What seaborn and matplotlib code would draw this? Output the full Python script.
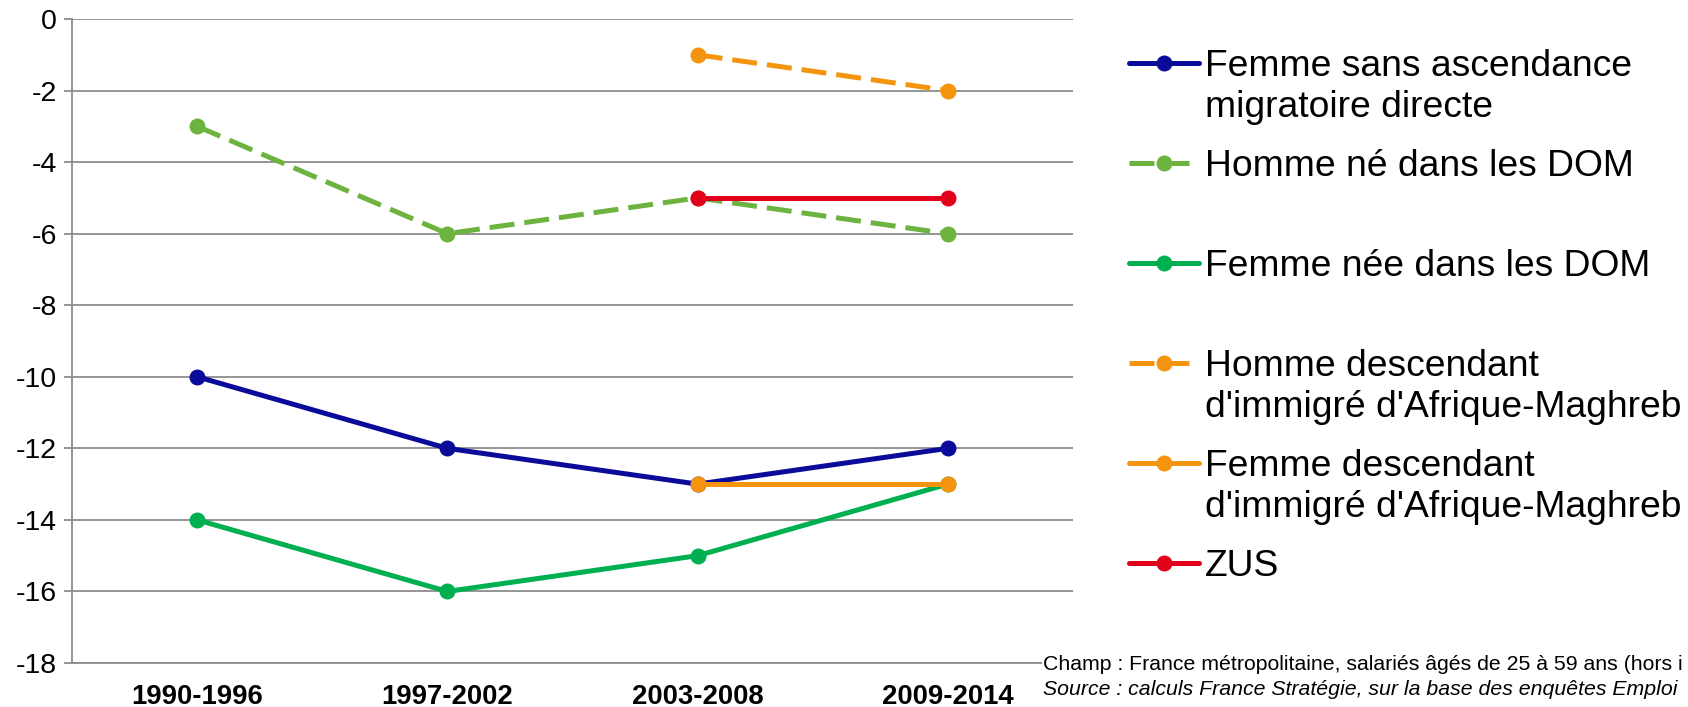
import numpy as np
import pandas as pd
import matplotlib
matplotlib.use("Agg")
import matplotlib.pyplot as plt
from matplotlib.transforms import IdentityTransform
import seaborn as sns

periodes = ["1990-1996", "1997-2002", "2003-2008", "2009-2014"]
series = [
    "Femme sans ascendance\nmigratoire directe",
    "Homme né dans les DOM",
    "Femme née dans les DOM",
    "Homme descendant\nd'immigré d'Afrique-Maghreb",
    "Femme descendant\nd'immigré d'Afrique-Maghreb",
    "ZUS",
]
femme_sans_ascendance = [-10, -12, -13, -12]
homme_ne_dom = [-3, -6, -5, -6]
femme_nee_dom = [-14, -16, -15, -13]
homme_desc_maghreb = [np.nan, np.nan, -1, -2]
femme_desc_maghreb = [np.nan, np.nan, -13, -13]
zus = [np.nan, np.nan, -5, -5]
y_ticks = [0, -2, -4, -6, -8, -10, -12, -14, -16, -18]
note_champ = "Champ : France métropolitaine, salariés âgés de 25 à 59 ans (hors i"
note_source = "Source : calculs France Stratégie, sur la base des enquêtes Emploi"

couleurs = ["#0B0B99", "#6DB33F", "#00B050", "#F5950F", "#F5950F", "#E2001A"]
tirets = ["", (5, 2), "", (5, 2), "", ""]

valeurs = [femme_sans_ascendance, homme_ne_dom, femme_nee_dom,
           homme_desc_maghreb, femme_desc_maghreb, zus]
rows = []
for nom, vals in zip(series, valeurs):
    for p, v in zip(periodes, vals):
        rows.append({"periode": p, "valeur": v, "serie": nom})
df = pd.DataFrame(rows).dropna()

sns.set_theme(style="white")
plt.rcParams["font.family"] = ["Liberation Sans", "DejaVu Sans"]
plt.rcParams["axes.unicode_minus"] = False
plt.rcParams["text.color"] = "black"
plt.rcParams["xtick.labelcolor"] = "black"
plt.rcParams["ytick.labelcolor"] = "black"

W, H = 1688, 707
fig = plt.figure(figsize=(W / 100, H / 100), dpi=100)
ax = fig.add_axes([72 / W, 1 - 663 / H, (1073 - 72) / W, (663 - 19) / H])

sns.lineplot(data=df, x="periode", y="valeur", hue="serie", style="serie",
             hue_order=series, style_order=series,
             palette=dict(zip(series, couleurs)),
             dashes=dict(zip(series, tirets)),
             markers=dict(zip(series, ["o"] * 6)),
             linewidth=3.6, markersize=11.5, markeredgewidth=0,
             errorbar=None, legend=False, ax=ax)

gris = "#8C8C8C"
ax.set_xlim(-0.5, 3.5)
ax.set_ylim(-18, 0)
ax.set_xticks(range(len(periodes)), periodes, fontweight="bold", fontsize=19.8)
ax.set_yticks(y_ticks, [str(t) for t in y_ticks], fontsize=20.5)
ax.set_xlabel("")
ax.set_ylabel("")
ax.yaxis.grid(True, color=gris, linewidth=1.3)
ax.xaxis.grid(False)
for s in ["top", "right"]:
    ax.spines[s].set_visible(False)
for s in ["left", "bottom"]:
    ax.spines[s].set_color(gris)
    ax.spines[s].set_linewidth(1.3)
ax.tick_params(axis="y", length=6, width=1.3, color=gris, pad=5, left=True)
ax.tick_params(axis="x", length=0, pad=15)

# legend: first lines as labels, second lines added below
premieres = [s.split("\n")[0] for s in series]
handles = ax.lines[:len(series)]
fs = 26.8
fs_px = fs * 100 / 72


def make_legend(spacing):
    return fig.legend(handles, premieres, loc="upper left",
                      bbox_to_anchor=(1129 / W, 1 - 40 / H), frameon=False,
                      fontsize=fs, handlelength=1.88, handletextpad=0.15,
                      labelspacing=spacing, borderpad=0, borderaxespad=0)


def centres(leg):
    fig.canvas.draw()
    out = []
    for h in leg.legend_handles:
        bb = h.get_window_extent()
        out.append((bb.x0, (bb.y0 + bb.y1) / 2))
    return out


spacing = 1.6
leg = make_legend(spacing)
c = centres(leg)
pas = (c[0][1] - c[-1][1]) / (len(series) - 1)
leg.remove()
spacing += (100 - pas) / fs_px
leg = make_legend(spacing)
c = centres(leg)
dy = (H - 63) - c[0][1]
leg.set_bbox_to_anchor((1129 / W, 1 - 40 / H + dy / H), transform=fig.transFigure)
fig.canvas.draw()

for txt, nom in zip(leg.get_texts(), series):
    parts = nom.split("\n")
    if len(parts) > 1:
        x, y = txt.get_transform().transform(txt.get_position())
        fig.text(x, y - 41, parts[1], transform=IdentityTransform(),
                 fontsize=fs, va="baseline", ha="left")

fig.text(1043 / W, 1 - 670 / H, note_champ, fontsize=15.3, va="baseline",
         ha="left", bbox=dict(facecolor="white", edgecolor="none", pad=1))
fig.text(1043 / W, 1 - 695 / H, note_source, fontsize=15.3, va="baseline",
         ha="left", style="italic")

fig.savefig("out.png", dpi=100)
